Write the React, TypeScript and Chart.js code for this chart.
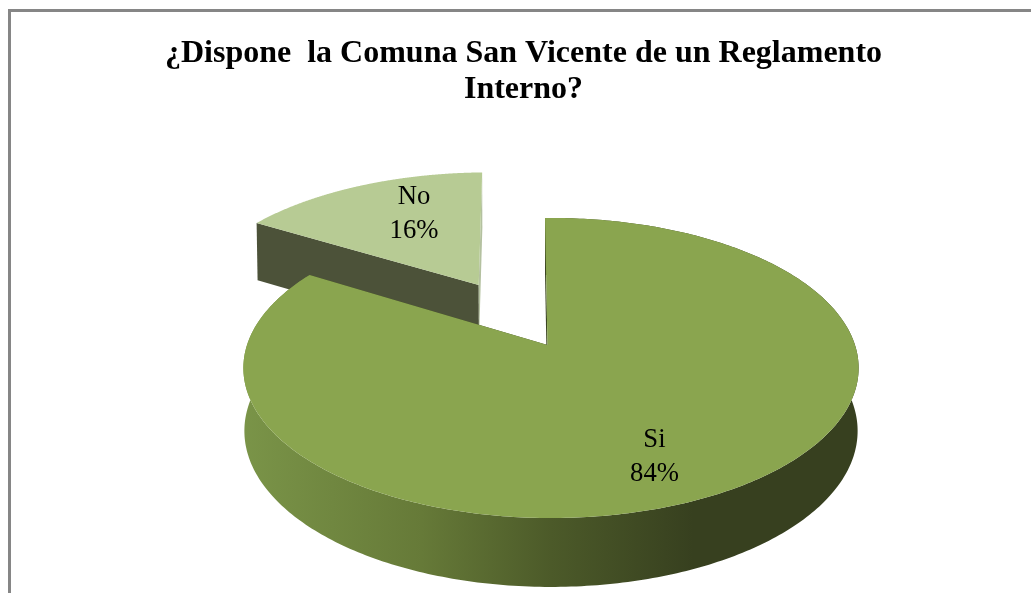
import React, { useEffect, useRef } from "react";
import { Chart, registerables } from "chart.js";

Chart.register(...registerables);

const categories = ["Si", "No"];
const seriesValues = [84, 16];
const titleLines = ["¿Dispone  la Comuna San Vicente de un Reglamento", "Interno?"];

const SERIF = '"Liberation Serif", "Times New Roman", serif';
const RAD = Math.PI / 180;

// camera that projects the unit disc of the pie onto the page
const CAM = { cx: 551, cy: 345, bx: 304, ay: 146.5, k: 0.1533, baseBx: 303, baseAy: 152.35, baseDrop: 62 };
const EXPLODE = [0, 0.506];
const APEX_SHIFT = [-3.5, 0];
const TOP_COLOURS = ["#8AA54F", "#B7CB94"];
const START_FACE = ["#3B4521", "#4C5239"];
const END_FACE = ["#3B4521", "#B4C1A0"];
const LABEL_R = [0.739, 0.674];
const LABEL_TURN = [5.7, 6.5];

type P = [number, number];
const topAt = (u: number, v: number): P => {
  const d = 1 - CAM.k * v;
  return [CAM.cx + (CAM.bx * u) / d, CAM.cy + (CAM.ay * v) / d];
};
const baseAt = (u: number, v: number): P => {
  const d = 1 - CAM.k * v;
  return [CAM.cx + (CAM.baseBx * u) / d, CAM.cy + CAM.baseDrop + (CAM.baseAy * v) / d];
};

const poly = (ctx: CanvasRenderingContext2D, pts: P[], fill: string | CanvasGradient) => {
  ctx.beginPath();
  pts.forEach((p, i) => (i ? ctx.lineTo(p[0], p[1]) : ctx.moveTo(p[0], p[1])));
  ctx.closePath();
  ctx.fillStyle = fill;
  ctx.fill();
};

const pie3d = {
  id: "pie3d",
  beforeDraw(chart: any) {
    const { ctx } = chart;
    ctx.save();
    ctx.strokeStyle = "#868686";
    ctx.lineWidth = 3;
    ctx.strokeRect(9.5, 10.5, 1400, 1000);
    ctx.restore();
  },
  beforeDatasetsDraw(chart: any) {
    const { ctx } = chart;
    const arcs = chart.getDatasetMeta(0).data;
    ctx.save();
    // far slice first, so that the near one covers it
    for (let i = arcs.length - 1; i >= 0; i--) {
      const { startAngle, endAngle } = arcs[i];
      const mid = (startAngle + endAngle) / 2;
      const ou = Math.cos(mid) * EXPLODE[i];
      const ov = Math.sin(mid) * EXPLODE[i];
      const rimAngles: number[] = [];
      const steps = 360;
      for (let s = 0; s <= steps; s++) rimAngles.push(startAngle + ((endAngle - startAngle) * s) / steps);
      const uv = rimAngles.map((a) => [ou + Math.cos(a), ov + Math.sin(a)]);
      const topRim = uv.map(([u, v]) => topAt(u, v));
      const baseRim = uv.map(([u, v]) => baseAt(u, v));
      const apexTop = topAt(ou, ov);
      const apexBase = baseAt(ou, ov);
      apexTop[0] += APEX_SHIFT[i];
      apexBase[0] += APEX_SHIFT[i];

      // outer wall: only the near slice shows it, the far slice's rim faces away
      if (i === 0) {
        const g = ctx.createLinearGradient(243, 0, 859, 0);
        g.addColorStop(0, "#7A9448");
        g.addColorStop(0.29, "#667A38");
        g.addColorStop(0.5, "#4C5A29");
        g.addColorStop(0.73, "#37401F");
        g.addColorStop(1, "#37401F");
        poly(ctx, [...topRim, ...[...baseRim].reverse()], g);
      }
      // cut faces
      poly(ctx, [topRim[0], apexTop, apexBase, baseRim[0]], START_FACE[i]);
      poly(ctx, [topRim[steps], apexTop, apexBase, baseRim[steps]], END_FACE[i]);
      // top surface
      poly(ctx, [apexTop, ...topRim], TOP_COLOURS[i]);
    }
    // data labels
    ctx.fillStyle = "#000000";
    ctx.font = `26.67px ${SERIF}`;
    ctx.textAlign = "center";
    ctx.textBaseline = "middle";
    const total = seriesValues.reduce((a, b) => a + b, 0);
    arcs.forEach((arc: any, i: number) => {
      const mid = (arc.startAngle + arc.endAngle) / 2;
      const a = mid + LABEL_TURN[i] * RAD;
      const p = topAt(
        Math.cos(mid) * EXPLODE[i] + Math.cos(a) * LABEL_R[i],
        Math.sin(mid) * EXPLODE[i] + Math.sin(a) * LABEL_R[i]
      );
      ctx.fillText(categories[i], p[0], p[1] - 15);
      ctx.fillText(`${Math.round((seriesValues[i] / total) * 100)}%`, p[0], p[1] + 19);
    });
    ctx.restore();
    return false;
  },
};

export default function App() {
  const ref = useRef<HTMLCanvasElement>(null);
  useEffect(() => {
    document.body.style.margin = "0";
    document.body.style.background = "#ffffff";
    const chart = new Chart(ref.current as HTMLCanvasElement, {
      type: "pie",
      plugins: [pie3d],
      data: {
        labels: categories,
        datasets: [{ data: seriesValues, backgroundColor: TOP_COLOURS, borderWidth: 0 }],
      },
      options: {
        responsive: false,
        animation: false,
        rotation: -1.3,
        layout: { padding: { left: 16 } },
        plugins: {
          legend: { display: false },
          tooltip: { enabled: false },
          title: {
            display: true,
            text: titleLines,
            color: "#000000",
            padding: { top: 36, bottom: 0 },
            font: { family: SERIF, size: 32, weight: "bold", lineHeight: 1.125 },
          },
        },
      },
    } as any);
    return () => chart.destroy();
  }, []);
  return (
    <div style={{ position: "absolute", left: 0, top: 0, width: 1031, height: 593, overflow: "hidden" }}>
      <canvas ref={ref} width={1031} height={593} style={{ display: "block" }} />
    </div>
  );
}
